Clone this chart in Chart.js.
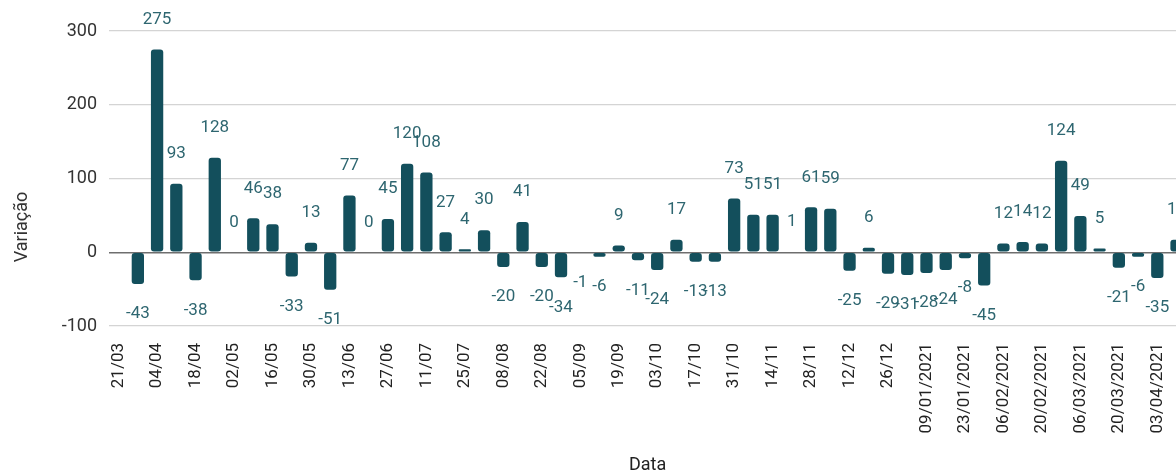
<!DOCTYPE html>
<html>
<head>
<meta charset="utf-8">
<script src="https://cdn.jsdelivr.net/npm/chart.js@4"></script>
<style>
  html, body { margin: 0; padding: 0; background: #fff; overflow: hidden; }
  #wrap { width: 1206px; height: 476px; position: relative; }
</style>
</head>
<body>
<div id="wrap"><canvas id="chart"></canvas></div>
<script>
// weekly dates (every other one shows on the axis)
const dates = ['21/03','28/03','04/04','11/04','18/04','25/04','02/05','09/05','16/05','23/05',
  '30/05','06/06','13/06','20/06','27/06','04/07','11/07','18/07','25/07','01/08',
  '08/08','15/08','22/08','29/08','05/09','12/09','19/09','26/09','03/10','10/10',
  '17/10','24/10','31/10','07/11','14/11','21/11','28/11','05/12','12/12','19/12',
  '26/12','02/01/2021','09/01/2021','16/01/2021','23/01/2021','30/01/2021','06/02/2021','13/02/2021','20/02/2021','27/02/2021',
  '06/03/2021','13/03/2021','20/03/2021','27/03/2021','03/04/2021','10/04/2021'];

const variacao = [null,-43,275,93,-38,128,0,46,38,-33,
  13,-51,77,0,45,120,108,27,4,30,
  -20,41,-20,-34,-1,-6,9,-11,-24,17,
  -13,-13,73,51,51,1,61,59,-25,6,
  -29,-31,-28,-24,-8,-45,12,14,12,124,
  49,5,-21,-6,-35,17];

const yTicks = [-100, 0, 100, 200, 300];

const BAR = '#134f5c';
const LABEL = '#2e6670';

// value labels above/below each bar, plus the y title
const barLabels = {
    id: 'barLabels',
    afterDatasetsDraw(chart) {
        const ctx = chart.ctx;
        const meta = chart.getDatasetMeta(0);
        ctx.save();
        ctx.font = '17px Roboto';
        ctx.fillStyle = LABEL;
        ctx.textAlign = 'center';
        ctx.textBaseline = 'middle';
        meta.data.forEach((bar, i) => {
            const v = variacao[i];
            if (v === null) return;
            const y = v >= 0 ? bar.y - 30 : bar.y + 30;
            ctx.fillText(String(v), bar.x, y);
        });
        ctx.restore();

        ctx.save();
        ctx.font = '18px Roboto';
        ctx.fillStyle = '#333';
        ctx.textAlign = 'center';
        ctx.textBaseline = 'middle';
        ctx.translate(22, 227);
        ctx.rotate(-Math.PI / 2);
        ctx.fillText('Variação', 0, 0);
        ctx.restore();
    }
};

new Chart(document.getElementById('chart'), {
    type: 'bar',
    data: {
        labels: dates,
        datasets: [{
            data: variacao,
            backgroundColor: BAR,
            borderRadius: 3,
            borderSkipped: false,
            categoryPercentage: 1,
            barPercentage: 0.64
        }]
    },
    options: {
        responsive: true,
        maintainAspectRatio: false,
        animation: false,
        layout: { padding: { top: 31, right: 7, left: 0, bottom: 0 } },
        plugins: {
            legend: { display: false },
            tooltip: { enabled: false }
        },
        scales: {
            x: {
                grid: { display: false },
                border: { display: false },
                ticks: {
                    autoSkip: false,
                    minRotation: 90,
                    maxRotation: 90,
                    padding: 9,
                    color: '#222',
                    font: { family: 'Roboto', size: 17 },
                    callback: (val, i) => i % 2 === 0 ? dates[i] : ''
                },
                title: {
                    display: true,
                    text: 'Data',
                    color: '#222',
                    font: { family: 'Roboto', size: 18 },
                    padding: { top: 0, bottom: 0 }
                },
                afterFit: scale => { scale.height = 150; }
            },
            y: {
                min: -100,
                max: 300,
                afterBuildTicks: scale => { scale.ticks = yTicks.map(v => ({ value: v })); },
                grid: {
                    drawTicks: false,
                    color: c => c.tick && c.tick.value === 0 ? '#6e6e6e' : '#d4d4d4',
                    lineWidth: c => c.tick && c.tick.value === 0 ? 1.4 : 1.2
                },
                border: { display: false },
                ticks: {
                    padding: 12,
                    color: '#333',
                    font: { family: 'Roboto', size: 18 }
                },
                afterFit: scale => { scale.width = 109; }
            }
        }
    },
    plugins: [barLabels]
});
</script>
</body>
</html>
